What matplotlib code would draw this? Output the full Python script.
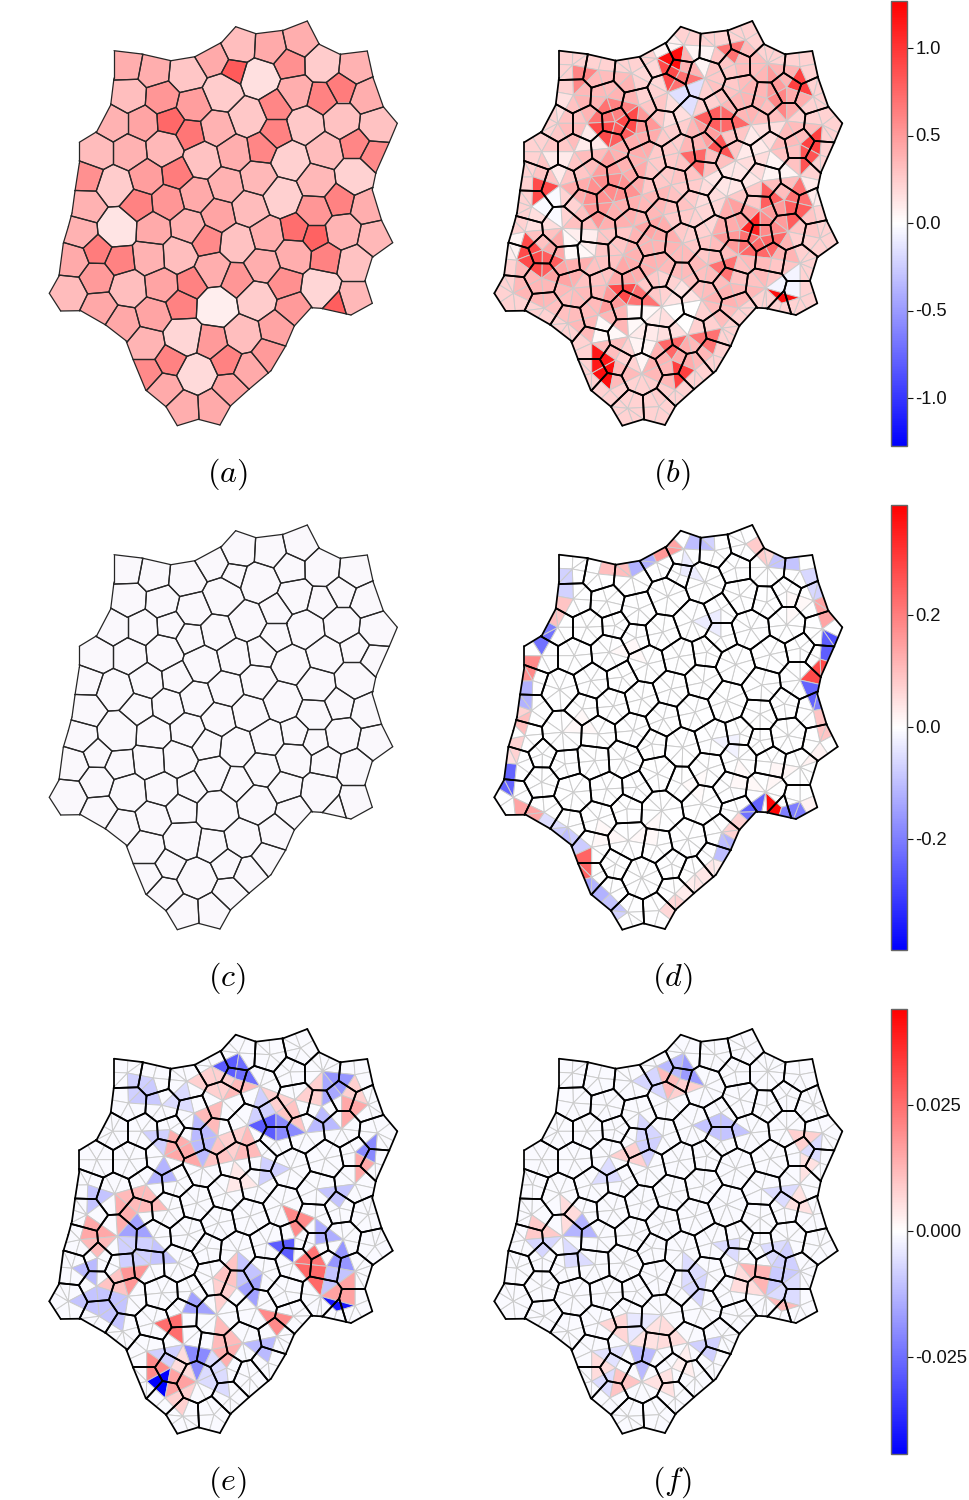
import numpy as np
import matplotlib
matplotlib.use("Agg")
import matplotlib.pyplot as plt
from matplotlib.collections import PolyCollection, LineCollection
from matplotlib.cm import ScalarMappable
from matplotlib.colors import Normalize
from matplotlib.transforms import ScaledTranslation

plt.rcParams['font.family'] = ['Liberation Sans', 'DejaVu Sans']
plt.rcParams['mathtext.fontset'] = 'cm'
plt.rcParams['axes.unicode_minus'] = False

# cell centres, read in the pixel frame of panel (a)
seed_x = [127.3, 153.3, 186.7, 211.7, 235, 239, 270, 300.7, 290, 322.7, 355, 260, 222.7, 295, 321.7, 341.7, 368.3,
          128.3, 161.7, 194, 170, 141.7, 112.7, 96.7, 129.3, 164, 190.7, 217.7, 247.3, 276, 276, 306, 341.7, 377.3,
          355, 375, 325, 261.7, 234, 202.7, 290.7, 355, 316.7, 258.3, 226, 177.3, 146, 114.7, 87.7, 196.7, 168.3,
          137.3, 86.7, 218.3, 250, 281.7, 339.3, 315, 368.3,
          117.3, 80, 97.3, 120, 71.7, 96.7, 68.3, 99.3, 128.3, 150, 153.3, 178.3, 188.3, 206.7, 237.7, 212.7, 161.7,
          191.7, 236.7, 262.7, 266.7, 293.3, 295, 315, 326.7, 343.3, 375, 355, 285, 320.7, 355, 336.7, 293.3, 256.7,
          216.7, 181.7, 153.3, 122.7, 146.7, 183.3, 211.7, 242.7, 276.7, 268.3, 170.7, 146.7, 196.7, 226.7, 250, 165,
          230, 182.7, 214]
seed_y = [65, 70, 73.3, 58.3, 70.7, 45, 46.7, 40, 64, 63.3, 66.7, 78.3, 92.7, 91.7, 98.3, 87.3, 96.7,
          95, 97.3, 105, 121.7, 123.3, 123.3, 151.7, 151.7, 148.3, 134, 128.3, 117.3, 105, 133.3, 125, 121, 125,
          144.3, 155, 150.7, 148.3, 152.7, 160, 160.7, 176, 181, 178.3, 185, 173.3, 176.7, 185.7, 176.7, 195, 202.3,
          205, 206.7, 215, 208.3, 196.7, 200, 210, 206.7,
          228.3, 231.7, 250, 260, 260, 278.3, 293.3, 308.3, 288.3, 256.7, 230, 255, 226.7, 240, 243.3, 270, 285,
          283.3, 280, 265, 235, 255, 230, 236.7, 258.3, 231.7, 238.3, 263.3, 283.3, 288.3, 297.7, 303.3, 308.3, 300,
          306.7, 305, 315, 323.3, 343.3, 336.7, 341.7, 335, 328.3, 355, 360, 373.3, 374, 360, 370, 390,
          390, 408.3, 406.7]

outline_x = [114, 141.7, 171, 195, 221.7, 235.7, 256, 283.3, 307.3, 319.3, 340, 367.3, 373.3, 383.3, 397.3, 389.3,
             376, 372.3, 381.7, 392.7, 372.3, 365, 372.3, 351, 321, 311, 294.3, 285.7, 271, 249.3, 230.7, 220,
             198.3, 177.3, 166, 145.7, 133.3, 126, 105.7, 80.7, 60.7, 49.3, 59, 63.3, 68.3, 72, 75, 79.3, 79.3,
             96.7, 110.7, 114]
outline_y = [50.7, 54, 60.7, 56.7, 42.3, 26.7, 33.7, 30.3, 21, 44.3, 54.3, 51, 78.3, 106.7, 123.3, 142.3,
             172.3, 190, 220.7, 242.7, 257.3, 280.7, 303.3, 315, 308.3, 307.7, 326, 346, 370.7, 389, 405.7, 425,
             419.3, 425.7, 406.7, 390, 360, 340.7, 325, 310.7, 311, 293.3, 276, 243.3, 226.7, 213, 191, 163.3, 142.3,
             131.7, 105, 78]

# panel (a): one value per cell
cell_a = [.40, .40, .28, .42, .82, .32, .42, .40, .55, .25, .38, .15, .25, .40, .62, .65, .40,
          .32, .52, .48, .75, .45, .38, .33, .38, .35, .68, .38, .27, .60, .62, .27, .30, .30,
          .60, .58, .33, .60, .40, .30, .23, .22, .35, .35, .38, .65, .48, .25, .55, .42, .52,
          .62, .38, .45, .33, .23, .62, .52, .40,
          .13, .38, .65, .62, .42, .50, .33, .43, .32, .38, .42, .32, .38, .58, .30, .40, .45,
          .62, .52, .40, .40, .40, .72, .78, .62, .37, .35, .30, .55, .20, .35, .80, .50, .25,
          .08, .62, .45, .43, .37, .20, .50, .32, .45, .50, .62, .58, .18, .62, .42, .42,
          .45, .40, .42]

# finer elements that stand out: (x, y, value) in the frame of panel (a)
hot_b = [(230, 62, 1.2), (222, 72, 1.0), (227, 82, .9), (237, 75, .7), (242, 93, -.15), (250, 90, -.15), (245, 105, -.15),
         (228, 95, -.15), (255, 67, .05), (248, 53, .05), (262, 53, .05), (288, 53, .85), (278, 48, .7), (355, 78, 1.0),
         (352, 85, .95), (328, 97, .7), (342, 110, .6), (370, 137, 1.0), (362, 153, 1.0), (370, 150, .95), (357, 167, .85),
         (307, 133, .1), (328, 160, .1), (325, 173, .08), (343, 173, .05), (367, 180, .1), (367, 198, .1), (318, 190, .9),
         (332, 197, .85), (322, 203, .8), (308, 222, 1.2), (302, 227, 1.2), (355, 190, .7), (358, 207, .8), (168, 127, .9),
         (187, 117, .85), (173, 127, .9), (182, 127, .9), (170, 142, .8), (162, 107, .7), (93, 187, 1.1), (93, 197, 1.1),
         (105, 188, .9), (110, 197, -.02), (98, 205, -.03), (112, 215, -.03), (115, 173, .1), (105, 158, .1), (120, 158, .1),
         (145, 133, .1), (120, 98, .15), (218, 50, .05), (230, 43, .08), (133, 75, .6), (255, 157, .65), (255, 168, .75),
         (278, 120, .75), (272, 127, .8), (285, 153, .8), (275, 140, .85), (83, 243, 1.0), (80, 255, 1.0), (92, 250, .9),
         (100, 270, .85), (112, 262, .8), (93, 260, .9), (70, 238, .05), (70, 253, .08), (125, 235, .03), (145, 235, .03),
         (140, 247, .08), (113, 222, -.02), (170, 288, .8), (185, 288, .85), (180, 298, .9), (205, 300, .7), (188, 313, .03),
         (205, 315, .03), (225, 312, -.02), (247, 310, -.02), (242, 325, 0), (158, 325, .03), (155, 337, .03), (172, 332, .03),
         (190, 342, .08), (203, 347, .12), (197, 360, .05), (152, 352, 1.0), (153, 365, 1.15), (163, 363, 1.15), (163, 380, 1.2),
         (233, 367, 1.15), (233, 380, 1.15), (243, 370, .95), (218, 347, .7), (225, 353, .75), (262, 345, .75), (268, 335, .7),
         (253, 338, .7), (337, 292, 1.25), (338, 300, 1.27), (347, 297, 1.2), (330, 283, -.05), (347, 273, -.05), (347, 288, -.05),
         (308, 227, 1.27), (302, 225, 1.1), (310, 245, .8), (323, 243, .8), (302, 253, .75), (328, 250, .75), (285, 267, .7),
         (282, 275, .8), (272, 270, .7)]

hot_d = [(230, 44, .14), (217, 52, .16), (203, 59, -.13), (190, 66, -.12), (178, 68, .1), (162, 66, .1), (122, 71, -.07),
         (121, 87, -.07), (120, 101, .09), (113, 115, .1), (106, 129, -.2), (97, 141, -.22), (88, 159, .18), (84, 171, .17),
         (82, 184, -.12), (81, 198, -.12), (80, 211, .07), (77, 224, .1), (72, 238, .07), (69, 253, .05), (67, 268, -.24),
         (62, 284, -.24), (76, 303, .14), (91, 309, .14), (103, 316, -.05), (114, 323, -.08), (125, 332, -.1), (136, 342, -.08),
         (138, 353, .24), (141, 367, .24), (147, 379, -.14), (157, 389, -.12), (167, 398, -.09), (175, 408, -.07), (221, 406, .06),
         (230, 394, .07), (242, 386, .03), (252, 376, .04), (262, 368, .04), (270, 359, .03), (275, 349, -.1), (280, 338, -.12),
         (285, 328, .07), (293, 318, .07), (302, 309, -.22), (312, 300, -.24), (324, 301, .39), (330, 306, .39), (343, 306, -.2),
         (355, 304, -.2), (365, 299, .02), (373, 246, .02), (378, 229, .09), (373, 214, .09), (368, 199, -.2), (363, 184, -.24),
         (367, 174, .28), (375, 163, .28), (382, 149, -.25), (385, 134, -.27), (380, 114, .14), (373, 101, .14), (368, 87, -.07),
         (363, 73, -.06), (347, 60, -.09), (330, 59, -.09), (320, 54, .06), (310, 43, .08), (263, 40, -.07), (249, 39, -.1),
         (275, 116, -.03), (272, 126, -.03), (288, 233, -.02), (238, 66, -.03), (188, 143, .012), (122, 222, .01), (140, 210, .01),
         (250, 285, .008), (300, 270, .012), (327, 262, .015), (345, 95, .01), (205, 320, .01), (160, 322, .012)]

hot_e = [(238, 56, -.03), (227, 59, -.028), (237, 66, -.033), (248, 71, -.025), (240, 74, .015), (227, 74, .008), (250, 79, .016),
         (230, 84, .012), (213, 68, .008), (197, 76, .008), (262, 119, -.035), (270, 116, -.03), (283, 116, -.025), (273, 128, -.028),
         (282, 128, -.02), (295, 123, -.02), (320, 73, -.012), (327, 71, -.012), (347, 73, -.012), (325, 88, -.015), (338, 81, -.018),
         (323, 106, -.014), (333, 113, -.012), (313, 116, -.012), (347, 101, .02), (357, 99, .015), (350, 84, .008), (300, 88, .008),
         (287, 99, .01), (280, 96, .008), (370, 136, -.018), (362, 143, -.02), (358, 153, .02), (368, 156, .02), (357, 166, .015),
         (337, 189, -.016), (330, 184, -.01), (347, 183, -.01), (93, 186, -.014), (92, 198, -.012), (105, 189, -.01), (122, 193, .014),
         (133, 196, .02), (138, 186, .012), (127, 208, .014), (137, 213, .016), (93, 213, .015), (90, 224, .015), (128, 219, -.018),
         (157, 173, -.012), (163, 159, -.013), (173, 131, .014), (182, 136, .015), (188, 143, .018), (173, 144, .014), (192, 153, .015),
         (202, 151, -.014), (210, 133, -.012), (197, 118, -.012), (198, 129, -.012), (163, 128, -.012), (148, 126, -.008), (143, 74, -.008),
         (135, 88, -.008), (153, 91, -.009), (172, 93, -.006), (213, 119, .01), (223, 129, .012), (238, 133, .008), (253, 136, .008),
         (227, 146, .012), (240, 143, .012), (217, 149, .01), (267, 156, -.012), (280, 163, -.008), (240, 181, .004), (290, 204, .015),
         (305, 211, .018), (295, 218, .02), (320, 219, -.014), (147, 183, .012), (210, 101, .01), (200, 106, .012), (273, 106, -.008),
         (103, 231, .012), (122, 224, -.015), (132, 221, -.018), (147, 224, -.016), (123, 234, -.008), (143, 238, -.008), (153, 239, -.01),
         (140, 251, -.008), (152, 249, -.01), (82, 263, -.012), (92, 271, -.012), (90, 258, -.012), (127, 266, .02), (135, 263, .015),
         (130, 279, .018), (115, 268, .01), (80, 294, -.012), (97, 288, -.012), (110, 294, -.01), (95, 299, -.01), (120, 313, -.01),
         (192, 291, -.018), (190, 301, -.014), (203, 303, -.016), (163, 316, .02), (175, 313, .022), (177, 326, .025), (218, 294, .01),
         (220, 316, .015), (218, 333, .015), (233, 333, .012), (227, 351, .018), (218, 343, .014), (225, 266, .01), (217, 271, .01),
         (230, 279, .008), (257, 276, -.02), (255, 291, -.018), (247, 281, -.016), (243, 269, -.01), (280, 236, -.025), (288, 234, -.028),
         (290, 248, -.028), (303, 256, .024), (317, 246, .024), (318, 264, .027), (315, 279, .026), (330, 279, -.01), (333, 254, -.018),
         (342, 241, -.02), (345, 259, -.018), (347, 278, .014), (330, 286, .016), (347, 288, .016), (330, 293, -.044), (338, 298, -.044),
         (347, 296, -.04), (270, 306, .018), (282, 313, .018), (275, 321, .02), (253, 338, -.012), (267, 334, -.014), (265, 346, -.012),
         (190, 344, -.02), (205, 344, -.016), (197, 359, -.02), (167, 353, -.01), (155, 343, -.008), (173, 339, -.008), (152, 351, .02),
         (160, 356, .022), (152, 363, .02), (155, 372, -.044), (164, 368, -.044), (163, 381, -.044), (175, 369, .016), (173, 379, .018),
         (187, 374, .016), (175, 389, .008), (183, 398, .008), (177, 358, .006), (213, 361, -.006), (227, 379, -.006)]

hot_f = [(243, 58, -.018), (242, 68, -.02), (252, 73, -.017), (233, 63, -.012), (198, 76, -.009), (212, 69, -.009), (210, 83, -.007),
         (222, 69, .008), (230, 76, .011), (223, 84, .012), (245, 79, .008), (273, 116, -.010), (258, 119, -.008), (272, 126, -.010),
         (282, 126, -.010), (295, 123, -.010), (352, 124, .008), (367, 128, .008), (355, 136, .008), (363, 143, -.006), (373, 134, -.006),
         (370, 148, -.006), (358, 163, .005), (337, 191, -.008), (345, 181, -.006), (353, 184, .005), (187, 143, .012), (177, 148, .01),
         (195, 153, .008), (203, 151, -.008), (202, 136, -.008), (208, 126, -.007), (163, 159, -.008), (153, 173, -.006), (168, 173, -.006),
         (138, 214, -.012), (145, 224, -.012), (127, 224, -.013), (123, 234, -.007), (123, 253, -.006), (93, 214, .01), (90, 226, .01),
         (107, 224, .009), (130, 204, .009), (120, 196, .008), (122, 216, .006), (97, 243, -.007), (288, 236, -.01), (290, 248, -.01),
         (278, 236, -.006), (303, 263, .012), (318, 264, .012), (317, 276, .013), (308, 279, .006), (335, 259, -.008), (347, 266, -.009),
         (343, 256, -.008), (332, 283, -.008), (343, 276, -.006), (335, 243, -.006), (330, 293, .012), (338, 299, .016), (347, 298, .012),
         (175, 314, .01), (177, 326, .011), (162, 316, .007), (188, 313, -.004), (215, 333, .006), (232, 333, .006), (252, 338, -.008),
         (267, 344, -.008), (268, 333, -.008), (192, 344, -.012), (205, 346, -.01), (197, 361, -.012), (168, 353, -.01), (157, 344, -.008),
         (177, 341, -.005), (175, 371, .011), (187, 374, .01), (172, 381, .01), (152, 353, .005), (162, 358, .006), (163, 379, -.006),
         (225, 379, -.004), (240, 363, .003), (222, 369, .005), (212, 316, .005), (220, 318, .006), (242, 276, -.007), (255, 269, -.006)]

base_d = -0.002
base_e = -0.0008
base_f = -0.0008
border_b = 0.22
fill_c = '#faf8fc'

bar_limits = [1.27, 0.397, 0.0441]
bar_ticks = [[-1.0, -0.5, 0.0, 0.5, 1.0], [-0.2, 0.0, 0.2], [-0.025, 0.0, 0.025]]
bar_labels = [['-1.0', '-0.5', '0.0', '0.5', '1.0'], ['-0.2', '0.0', '0.2'], ['-0.025', '0.000', '0.025']]

W, H = 969, 1500


def clip_half(poly, p, n):
    # keep the part of poly with (x - p).n >= 0
    out = []
    for k in range(len(poly)):
        a, b = poly[k], poly[(k + 1) % len(poly)]
        da, db = (a - p) @ n, (b - p) @ n
        if da >= 0:
            out.append(a)
        if da * db < 0:
            out.append(a + (b - a) * da / (da - db))
    return out


def build_cells():
    seeds = np.column_stack([seed_x, seed_y])
    outline = np.column_stack([outline_x, outline_y])
    # pale cells are the big ones, so walls sit off the midpoint between centres
    weight = -300 * np.array(cell_a)
    cells = []
    for i, s in enumerate(seeds):
        poly = list(outline)
        for j, t in enumerate(seeds):
            if i != j and len(poly):
                shift = (weight[i] - weight[j]) / (2 * ((t - s) @ (t - s)))
                poly = clip_half(poly, (s + t) / 2 + shift * (t - s), s - t)
        cells.append(np.array(poly))
    return seeds, cells


def build_elements(seeds, cells):
    key = lambda q: (round(float(q[0]), 3), round(float(q[1]), 3))
    at_vertex = {}
    edge_count = {}
    for i, poly in enumerate(cells):
        keys = [key(q) for q in poly]
        for k, q in enumerate(keys):
            r = keys[(k + 1) % len(keys)]
            if q == r:
                continue
            at_vertex.setdefault(q, set()).add(i)
            e = tuple(sorted((q, r)))
            edge_count.setdefault(e, []).append(i)
    border = {}
    for e, owners in edge_count.items():
        if len(owners) == 1:
            mid = ((e[0][0] + e[1][0]) / 2, (e[0][1] + e[1][1]) / 2)
            for q in e:
                border.setdefault(q, []).append((owners[0], mid))
    elements = []
    owners_of = []
    on_border = []
    for v, owners in at_vertex.items():
        owners = sorted(owners)
        if v not in border:
            # inner vertex: triangle joining the centres around it
            ang = [np.arctan2(seeds[i][1] - v[1], seeds[i][0] - v[0]) for i in owners]
            pts = [seeds[owners[k]] for k in np.argsort(ang)]
        elif len(owners) == 1:
            m = [b[1] for b in border[v]]
            pts = [seeds[owners[0]], m[0], v, m[-1]]
        else:
            m = border[v]
            pts = [seeds[m[0][0]], m[0][1], v, m[-1][1], seeds[m[-1][0]]]
        elements.append(np.array(pts, dtype=float))
        owners_of.append(owners)
        on_border.append(v in border)
    return elements, owners_of, on_border


def element_values(elements, base, hot):
    vals = np.array(base, dtype=float)
    mids = np.array([e.mean(axis=0) for e in elements])
    for x, y, v in hot:
        vals[np.argmin(np.hypot(mids[:, 0] - x, mids[:, 1] - y))] = v
    return vals


def panel_axes(fig, col, row):
    x0 = 40 + col * 445
    y0 = 10 + row * 504
    ax = fig.add_axes([x0 / W, 1 - (y0 + 488) / H, 370 / W, 488 / H])
    ax.set_xlim(40, 410)
    ax.set_ylim(498, 10)
    ax.axis('off')
    return ax


def edge_segments(cells):
    segs = []
    for poly in cells:
        for k in range(len(poly)):
            segs.append([poly[k], poly[(k + 1) % len(poly)]])
    return segs


def draw_panel(fig, col, row, name, cells, elements, vals, norm, fill=None):
    ax = panel_axes(fig, col, row)
    if fill is not None:
        ax.add_collection(PolyCollection(cells, facecolors=fill, edgecolors='none'))
        lw, color = 0.9, '#262626'
    else:
        ax.add_collection(PolyCollection(cells, facecolors='#faf8fc', edgecolors='none'))
        pc = PolyCollection(elements, array=vals, cmap='bwr', norm=norm, edgecolors='#cccccc', linewidths=0.7)
        ax.add_collection(pc)
        lw, color = 1.25, 'black'
    ax.add_collection(LineCollection(edge_segments(cells), colors=color, linewidths=lw, capstyle='round'))
    ax.text(227, 474, '$(' + name + ')$', fontsize=23, ha='center', va='center')
    return ax


def draw_bar(fig, row, limit, ticks, labels):
    y0 = 1 + row * 504
    cax = fig.add_axes([891 / W, 1 - (y0 + 444.5) / H, 16 / W, 444.5 / H])
    sm = ScalarMappable(Normalize(-limit, limit), 'bwr')
    cb = fig.colorbar(sm, cax=cax, ticks=ticks)
    cb.ax.set_yticklabels(labels)
    cb.ax.tick_params(labelsize=13.2, length=4, width=0.8, pad=2, colors='#111111')
    up = ScaledTranslation(0, 1 / 100, fig.dpi_scale_trans)
    for lab in cb.ax.get_yticklabels():
        lab.set_transform(lab.get_transform() + up)
    cb.outline.set_edgecolor('#666666')
    cb.outline.set_linewidth(1.0)


seeds, cells = build_cells()
elements, owners_of, on_border = build_elements(seeds, cells)
a_vals = np.array(cell_a)

fig = plt.figure(figsize=(W / 100, H / 100), dpi=100)
norm1 = Normalize(-bar_limits[0], bar_limits[0])
norm2 = Normalize(-bar_limits[1], bar_limits[1])
norm3 = Normalize(-bar_limits[2], bar_limits[2])

cell_colors = plt.get_cmap('bwr')(norm1(a_vals))
draw_panel(fig, 0, 0, 'a', cells, elements, None, norm1, fill=cell_colors)

# panel (b) follows (a) with more contrast, and is pale along the border
base_b = []
for o, edge in zip(owners_of, on_border):
    m = a_vals[o].mean()
    base_b.append(border_b if edge else max(0.08, 0.36 + 1.6 * (m - 0.42)))
draw_panel(fig, 1, 0, 'b', cells, elements, element_values(elements, base_b, hot_b), norm1)

draw_panel(fig, 0, 1, 'c', cells, elements, None, norm2, fill=fill_c)
draw_panel(fig, 1, 1, 'd', cells, elements, element_values(elements, [base_d] * len(elements), hot_d), norm2)
draw_panel(fig, 0, 2, 'e', cells, elements, element_values(elements, [base_e] * len(elements), hot_e), norm3)
draw_panel(fig, 1, 2, 'f', cells, elements, element_values(elements, [base_f] * len(elements), hot_f), norm3)

for row in range(3):
    draw_bar(fig, row, bar_limits[row], bar_ticks[row], bar_labels[row])

fig.savefig("out.png", dpi=100)
